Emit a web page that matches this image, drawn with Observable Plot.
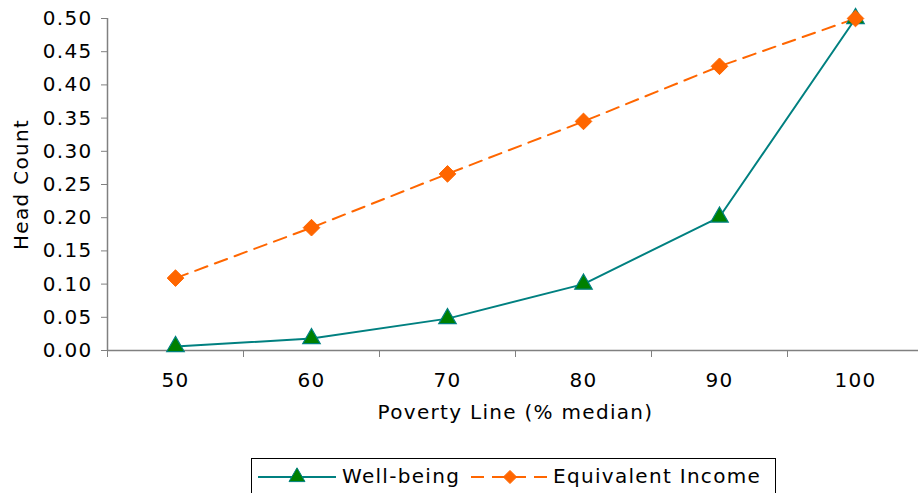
<!DOCTYPE html>
<html><head><meta charset="utf-8">
<script src="https://cdn.jsdelivr.net/npm/d3@7"></script>
<script src="https://cdn.jsdelivr.net/npm/@observablehq/plot@0.6"></script>
<style>
body{margin:0;background:#fff;font-family:"DejaVu Sans",Verdana,sans-serif;}
#chart{width:918px;height:450px;}
#legend{position:absolute;left:251px;top:458px;width:525px;height:42px;border:1px solid #000;box-sizing:border-box;font-size:20px;letter-spacing:1.3px;color:#000;}
#legend svg, #legend span{position:absolute;}
#legend span{top:5px;white-space:nowrap;}
</style></head><body><div id="chart"></div><div id="legend"></div>
<script>
const povertyLines = [50, 60, 70, 80, 90, 100];
const wellBeing = [0.006, 0.018, 0.048, 0.100, 0.201, 0.500];
const equivalentIncome = [0.109, 0.185, 0.266, 0.345, 0.428, 0.500];
const yTicks = [0, 0.05, 0.10, 0.15, 0.20, 0.25, 0.30, 0.35, 0.40, 0.45, 0.50];
const xBoundaries = [45, 55, 65, 75, 85, 95, 105];
const seriesNames = ["Well-being", "Equivalent Income"];

const teal = "#008080", green = "#008000", orange = "#FF6600", gray = "#808080";
const wb = povertyLines.map((x, i) => ({x, y: wellBeing[i]}));
const ei = povertyLines.map((x, i) => ({x, y: equivalentIncome[i]}));

const chart = Plot.plot({
  width: 918, height: 450,
  marginLeft: 107, marginRight: -5, marginTop: 18, marginBottom: 100,
  style: {fontFamily: "DejaVu Sans, Verdana, sans-serif", fontSize: "20px", letterSpacing: "1.3px", color: "#000", background: "#fff"},
  x: {type: "linear", domain: [45, 105]},
  y: {domain: [0, 0.5]},
  marks: [
    Plot.axisY({ticks: yTicks, tickFormat: d3.format(".2f"), tickSize: 6, tickPadding: 9, stroke: gray, fontSize: 20,
      label: "Head Count", labelAnchor: "center", labelOffset: 94, labelArrow: "none"}),
    Plot.axisX({ticks: xBoundaries, tickFormat: () => "", tickSize: 7, stroke: gray, label: null}),
    Plot.axisX({ticks: povertyLines, tickFormat: d => String(d), tickSize: 0, tickPadding: 22, fontSize: 20,
      label: "Poverty Line (% median)", labelAnchor: "center", labelOffset: 68, labelArrow: "none"}),
    Plot.ruleX([45], {stroke: gray, strokeWidth: 1.5}),
    Plot.ruleY([0], {stroke: gray, strokeWidth: 1.5}),
    Plot.line(ei, {x: "x", y: "y", stroke: orange, strokeWidth: 2, strokeDasharray: "13,8"}),
    Plot.line(wb, {x: "x", y: "y", stroke: teal, strokeWidth: 2}),
    Plot.dot(wb, {x: "x", y: "y", symbol: "triangle", r: 6.5, fill: green, stroke: teal, strokeWidth: 1.2}),
    Plot.dot(ei, {x: "x", y: "y", symbol: "diamond2", r: 7.5, fill: orange, stroke: orange, strokeWidth: 1})
  ]
});
document.getElementById("chart").appendChild(chart);

// legend (positions relative to box left edge at 251)
const legend = d3.select("#legend");
function addItem(name, color, dash, symbol, fill, lineLeft, textLeft) {
  const s = legend.append("svg").attr("width", 78).attr("height", 20)
    .style("left", lineLeft + "px").style("top", "8px");
  s.append("line").attr("x1", 0).attr("x2", 78).attr("y1", 10).attr("y2", 10)
    .attr("stroke", color).attr("stroke-width", 2).attr("stroke-dasharray", dash);
  s.append("path").attr("transform", "translate(39,10)")
    .attr("d", d3.symbol(symbol, 110)()).attr("fill", fill).attr("stroke", color);
  legend.append("span").style("left", textLeft + "px").text(name);
}
addItem(seriesNames[0], teal, null, d3.symbolTriangle, green, 6, 90);
addItem(seriesNames[1], orange, "13,8", d3.symbolDiamond2, orange, 219, 301);
</script></body></html>
